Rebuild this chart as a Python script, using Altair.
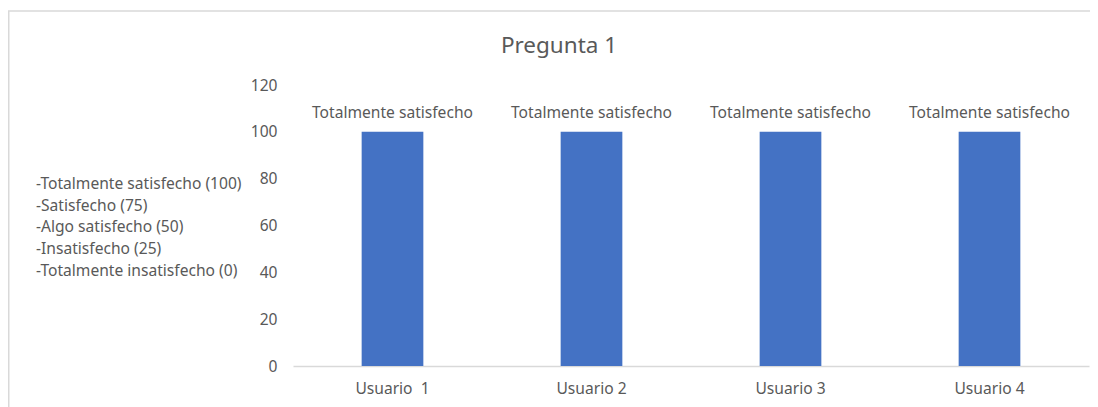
import altair as alt
import pandas as pd

users = ["Usuario \u00a01", "Usuario 2", "Usuario 3", "Usuario 4"]
scores = [100, 100, 100, 100]
bar_labels = ["Totalmente satisfecho"] * 4
scale_lines = [
    "-Totalmente satisfecho (100)",
    "-Satisfecho (75)",
    "-Algo satisfecho (50)",
    "-Insatisfecho (25)",
    "-Totalmente insatisfecho (0)",
]
title_text = "Pregunta 1"

df = pd.DataFrame({"user": users, "score": scores, "label": bar_labels})

FONT = "Noto Sans"
GREY = "#595959"
FS = 15.6
W, H = 796, 281
PAD_L, PAD_T = 285, 77

x = alt.X("user:N", sort=users, title=None,
          scale=alt.Scale(paddingInner=0.69, paddingOuter=0.345),
          axis=alt.Axis(labelAngle=0, ticks=False, domainColor="#d9d9d9",
                        domainWidth=1.3, labelColor=GREY, labelFont=FONT,
                        labelFontSize=FS, labelPadding=15))
y = alt.Y("score:Q", title=None,
          scale=alt.Scale(domain=[0, 120]),
          axis=alt.Axis(values=[0, 20, 40, 60, 80, 100, 120], ticks=False,
                        domain=False, grid=False, labelColor=GREY,
                        labelFont=FONT, labelFontSize=FS, labelPadding=16))

base = alt.Chart(df)
bars = base.mark_bar(color="#4472C4").encode(x=x, y=y)
labels = base.mark_text(baseline="alphabetic", dy=-14, font=FONT, fontSize=FS,
                        color=GREY).encode(x=x, y=y, text="label:N")

title = alt.Chart(pd.DataFrame({"t": [title_text]})).mark_text(
    font=FONT, fontSize=22.5, color=GREY, align="center", baseline="alphabetic"
).encode(x=alt.value(559 - 8 - PAD_L), y=alt.value(53 - 8 - PAD_T), text="t:N")

legend = alt.Chart(pd.DataFrame({"t": [0]})).mark_text(
    font=FONT, fontSize=FS, color=GREY, align="left", baseline="middle",
    lineHeight=21.7
).encode(x=alt.value(36 - 8 - PAD_L), y=alt.value(184 - 8 - PAD_T),
         text=alt.value(scale_lines))

frame_top = alt.Chart(pd.DataFrame({"t": [0]})).mark_rule(
    color="#d9d9d9", strokeWidth=1.5
).encode(x=alt.value(-PAD_L), x2=alt.value(W + 20), y=alt.value(11 - 8 - PAD_T))
frame_left = alt.Chart(pd.DataFrame({"t": [0]})).mark_rule(
    color="#d9d9d9", strokeWidth=1.5
).encode(x=alt.value(-PAD_L + 0.75), y=alt.value(11 - 8 - PAD_T), y2=alt.value(H + 60))

chart = alt.layer(frame_top, frame_left, bars, labels, title, legend).properties(
    width=W, height=H,
    background="white",
    autosize=alt.AutoSizeParams(type="none"),
    padding={"left": PAD_L, "top": PAD_T, "right": 1, "bottom": 41},
).configure_view(strokeWidth=0, stroke="transparent")

chart.save("out.html", embed_options={"renderer": "svg", "actions": False})
